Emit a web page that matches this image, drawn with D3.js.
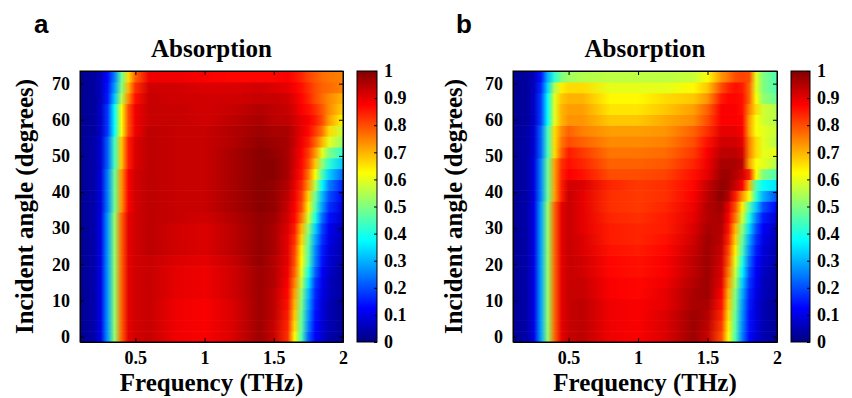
<!DOCTYPE html>
<html>
<head>
<meta charset="UTF-8">
<title>Absorption vs frequency and incident angle</title>
<script src="https://d3js.org/d3.v7.min.js"></script>
<style>
  body { margin: 0; background: #fff; }
  svg { display: block; }
  .tick text { font-family: "Liberation Serif", "Times New Roman", serif; font-weight: bold; font-size: 18px; fill: #000; }
  .ttl { font-family: "Liberation Serif", "Times New Roman", serif; font-weight: bold; font-size: 25px; }
  .panel-lbl { font-family: "Liberation Sans", Arial, sans-serif; font-weight: bold; font-size: 26px; }
</style>
</head>
<body>
<svg id="chart"></svg>
<script>
// frequency sample points (THz) for every row
const freqs = [0.1, 0.2, 0.25, 0.3, 0.35, 0.4, 0.45, 0.5, 0.6, 0.8, 1.0, 1.2, 1.4, 1.5, 1.6, 1.65, 1.7, 1.75, 1.8, 1.85, 1.9, 2.0];
// incident angles (degrees), one row each
const angles = [0, 3, 6, 9, 12, 15, 18, 21, 24, 27, 30, 33, 36, 39, 42, 45, 48, 51, 54, 57, 60, 63, 66, 69, 72];

const xTicks = [0.5, 1, 1.5, 2];
const yTicks = [0, 10, 20, 30, 40, 50, 60, 70];
const cbarTicks = [0, 0.1, 0.2, 0.3, 0.4, 0.5, 0.6, 0.7, 0.8, 0.9, 1];

// panel a: absorption, rows by angle, columns by freqs
const absorptionA = [
  [.02,.04,.10,.28,.52,.78,.90,.92, .93,.89,.88,.91,.97,.93, .83,.63,.45,.22,.12,.08,.04,.02],
  [.02,.04,.10,.28,.52,.78,.90,.92, .93,.89,.88,.91,.97,.93, .84,.66,.47,.25,.13,.08,.05,.02],
  [.02,.04,.10,.28,.52,.78,.90,.92, .93,.89,.88,.91,.97,.94, .85,.68,.48,.27,.14,.09,.05,.02],
  [.02,.04,.10,.28,.52,.78,.90,.92, .93,.89,.88,.91,.97,.94, .86,.70,.50,.29,.15,.09,.05,.02],
  [.02,.04,.10,.28,.52,.78,.90,.92, .93,.90,.89,.92,.97,.94, .87,.72,.52,.31,.16,.10,.06,.03],
  [.02,.04,.10,.28,.52,.78,.90,.92, .93,.90,.89,.92,.97,.95, .88,.75,.56,.35,.18,.11,.06,.03],
  [.02,.04,.10,.28,.52,.78,.90,.92, .93,.90,.89,.92,.97,.95, .89,.78,.60,.40,.22,.12,.07,.03],
  [.02,.04,.10,.28,.52,.78,.90,.92, .93,.91,.90,.93,.98,.95, .90,.80,.63,.45,.25,.14,.08,.04],
  [.02,.04,.10,.28,.52,.78,.90,.92, .94,.92,.91,.94,.98,.96, .90,.81,.64,.46,.26,.15,.09,.04],
  [.02,.04,.10,.28,.52,.78,.90,.92, .94,.92,.91,.94,.98,.96, .90,.83,.67,.48,.29,.17,.10,.05],
  [.02,.04,.10,.28,.52,.78,.90,.92, .94,.92,.91,.94,.98,.96, .91,.85,.70,.52,.33,.19,.11,.05],
  [.02,.04,.10,.28,.52,.78,.90,.92, .94,.93,.92,.95,.98,.97, .92,.87,.76,.58,.40,.23,.14,.07],
  [.02,.04,.09,.25,.48,.73,.88,.92, .94,.93,.93,.96,.99,.98, .93,.88,.80,.64,.45,.28,.17,.09],
  [.02,.04,.09,.25,.48,.73,.88,.92, .94,.93,.93,.96,.99,.98, .94,.89,.82,.67,.48,.31,.20,.11],
  [.02,.04,.09,.25,.48,.73,.88,.92, .94,.93,.93,.96,.99,.98, .95,.90,.84,.73,.55,.37,.25,.15],
  [.02,.04,.09,.25,.48,.73,.88,.92, .94,.93,.93,.96,.99,.99, .96,.91,.86,.76,.62,.45,.33,.22],
  [.02,.04,.08,.22,.44,.68,.85,.91, .94,.93,.93,.96,.99,.99, .96,.92,.87,.80,.68,.52,.42,.32],
  [.02,.04,.08,.22,.44,.68,.85,.91, .94,.93,.93,.96,.99,.98, .96,.92,.88,.82,.73,.60,.50,.42],
  [.02,.04,.08,.22,.44,.68,.85,.91, .94,.93,.93,.95,.98,.97, .96,.93,.89,.85,.78,.70,.60,.52],
  [.02,.03,.07,.18,.38,.62,.80,.89, .94,.93,.93,.95,.97,.96, .96,.93,.90,.87,.82,.76,.66,.57],
  [.02,.03,.07,.18,.38,.62,.80,.89, .93,.93,.92,.94,.96,.94, .94,.92,.90,.88,.85,.80,.72,.63],
  [.02,.03,.07,.18,.38,.62,.80,.89, .93,.93,.92,.93,.95,.94, .93,.91,.88,.86,.83,.79,.74,.67],
  [.02,.03,.06,.15,.32,.55,.74,.86, .93,.92,.92,.92,.93,.93, .92,.90,.87,.84,.80,.77,.74,.70],
  [.02,.03,.06,.14,.28,.50,.70,.83, .92,.92,.91,.91,.92,.91, .90,.88,.86,.83,.80,.78,.77,.75],
  [.02,.03,.06,.13,.25,.48,.66,.78, .89,.89,.88,.87,.87,.87, .88,.86,.84,.81,.79,.77,.76,.75]
];

// panel b
const absorptionB = [
  [.02,.04,.10,.28,.52,.78,.90,.93, .94,.89,.88,.91,.97,.93, .80,.62,.45,.25,.13,.08,.05,.02],
  [.02,.04,.10,.28,.52,.78,.90,.93, .94,.89,.88,.91,.97,.94, .82,.64,.46,.26,.14,.09,.05,.02],
  [.02,.04,.10,.28,.52,.78,.90,.93, .94,.89,.88,.91,.97,.95, .84,.66,.47,.27,.14,.09,.05,.02],
  [.02,.04,.10,.28,.52,.78,.90,.93, .94,.89,.88,.90,.96,.96, .86,.68,.49,.28,.15,.09,.05,.02],
  [.02,.04,.10,.28,.52,.78,.90,.93, .93,.88,.87,.90,.96,.97, .88,.70,.50,.30,.16,.10,.06,.03],
  [.02,.04,.10,.28,.52,.78,.90,.93, .93,.88,.87,.89,.95,.97, .90,.73,.54,.33,.18,.11,.06,.03],
  [.02,.04,.10,.28,.52,.78,.90,.93, .92,.87,.86,.88,.94,.97, .91,.76,.57,.37,.20,.12,.07,.03],
  [.02,.04,.10,.28,.52,.78,.90,.93, .92,.87,.86,.88,.94,.97, .92,.79,.60,.41,.23,.13,.08,.04],
  [.02,.04,.10,.28,.52,.78,.90,.93, .91,.86,.85,.87,.93,.97, .93,.81,.64,.45,.26,.15,.09,.04],
  [.02,.04,.10,.28,.52,.78,.90,.93, .91,.85,.84,.86,.92,.97, .94,.84,.67,.48,.29,.17,.10,.05],
  [.02,.04,.10,.28,.52,.78,.90,.93, .90,.85,.84,.85,.91,.96, .95,.86,.70,.52,.34,.20,.12,.06],
  [.02,.04,.10,.28,.52,.78,.90,.93, .90,.84,.83,.85,.90,.95, .96,.88,.76,.58,.40,.25,.15,.08],
  [.02,.04,.10,.28,.52,.78,.90,.93, .90,.83,.82,.84,.89,.95, .97,.90,.80,.64,.46,.32,.20,.12],
  [.02,.04,.09,.25,.48,.72,.85,.93, .90,.83,.82,.83,.88,.94, .99,.95,.85,.73,.62,.42,.30,.20],
  [.02,.04,.09,.25,.48,.72,.85,.92, .91,.84,.82,.83,.87,.93, .98,.97,.93,.88,.70,.45,.38,.35],
  [.02,.04,.09,.25,.48,.72,.84,.88, .86,.80,.80,.81,.86,.90, .97,.97,.95,.92,.85,.62,.50,.45],
  [.02,.04,.09,.25,.48,.72,.83,.86, .84,.78,.78,.79,.84,.89, .96,.96,.96,.94,.72,.62,.60,.55],
  [.02,.04,.08,.22,.44,.66,.78,.85, .82,.76,.76,.77,.82,.88, .94,.94,.94,.92,.75,.66,.60,.60],
  [.02,.04,.08,.22,.44,.66,.76,.80, .78,.74,.74,.75,.80,.86, .92,.92,.92,.90,.75,.66,.60,.55],
  [.02,.04,.08,.22,.44,.66,.74,.78, .75,.72,.72,.73,.78,.83, .90,.90,.90,.88,.72,.62,.60,.57],
  [.02,.03,.07,.18,.38,.60,.70,.73, .73,.68,.68,.71,.74,.80, .88,.88,.88,.87,.72,.62,.58,.55],
  [.02,.03,.07,.18,.38,.60,.70,.72, .72,.65,.65,.68,.72,.78, .88,.88,.88,.86,.75,.66,.58,.55],
  [.02,.03,.07,.18,.38,.60,.68,.70, .70,.63,.63,.66,.68,.73, .85,.87,.87,.86,.78,.62,.52,.48],
  [.02,.03,.06,.16,.34,.55,.64,.66, .66,.60,.60,.60,.63,.68, .80,.84,.86,.85,.78,.60,.50,.45],
  [.02,.03,.06,.14,.30,.42,.50,.53, .55,.56,.56,.56,.57,.62, .73,.76,.80,.81,.80,.60,.50,.45]
];

const W = 852, H = 398;
const svg = d3.select("#chart").attr("width", W).attr("height", H);
const defs = svg.append("defs");

// jet colormap, clim [0 1]
const jet = d3.scaleLinear()
  .domain([0, 0.125, 0.375, 0.625, 0.875, 1])
  .range(["#000080", "#0000ff", "#00ffff", "#ffff00", "#ff0000", "#800000"])
  .clamp(true);

const panels = [
  { name: "a", data: absorptionA, left: 80, right: 343, cbL: 357, cbR: 377, yLblX: 33, lblX: 34 },
  { name: "b", data: absorptionB, left: 513, right: 777, cbL: 791, cbR: 810, yLblX: 462, lblX: 456 }
];
const plotTop = 71, plotBottom = 342;

// colorbar gradient (shared)
const cg = defs.append("linearGradient").attr("id", "jetbar")
  .attr("x1", 0).attr("x2", 0).attr("y1", 1).attr("y2", 0);
cg.selectAll("stop").data(jet.domain()).join("stop")
  .attr("offset", d => d)
  .attr("stop-color", d => jet(d));

panels.forEach(p => {
  const g = svg.append("g");
  const x = d3.scaleLinear().domain([0.1, 2]).range([p.left, p.right]);
  const y = d3.scaleLinear().domain([-1.5, 73.5]).range([plotBottom, plotTop]);

  // one horizontal gradient per angle row
  p.data.forEach((vals, i) => {
    const grad = defs.append("linearGradient")
      .attr("id", `row-${p.name}-${i}`)
      .attr("gradientUnits", "userSpaceOnUse")
      .attr("x1", x(0.1)).attr("x2", x(2)).attr("y1", 0).attr("y2", 0);
    grad.selectAll("stop").data(freqs).join("stop")
      .attr("offset", f => (x(f) - x(0.1)) / (x(2) - x(0.1)))
      .attr("stop-color", (f, j) => jet(vals[j]));
  });

  g.selectAll("rect.row").data(angles).join("rect")
    .attr("class", "row")
    .attr("x", x(0.1))
    .attr("width", x(2) - x(0.1))
    .attr("y", a => y(a + 1.5))
    .attr("height", a => y(a - 1.5) - y(a + 1.5) + (a > 0 ? 0.6 : 0))
    .attr("fill", (a, i) => `url(#row-${p.name}-${i})`);

  // axes, ticks inward on all four sides
  const fmt = d => String(d);
  const axB = g.append("g").attr("transform", `translate(0,${plotBottom})`)
    .call(d3.axisBottom(x).tickValues(xTicks).tickFormat(fmt).tickSize(-4).tickSizeOuter(0).tickPadding(8));
  const axT = g.append("g").attr("transform", `translate(0,${plotTop})`)
    .call(d3.axisTop(x).tickValues(xTicks).tickFormat("").tickSize(-4).tickSizeOuter(0));
  const axL = g.append("g").attr("transform", `translate(${p.left},0)`)
    .call(d3.axisLeft(y).tickValues(yTicks).tickFormat(fmt).tickSize(-4).tickSizeOuter(0).tickPadding(10));
  const axR = g.append("g").attr("transform", `translate(${p.right},0)`)
    .call(d3.axisRight(y).tickValues(yTicks).tickFormat("").tickSize(-4).tickSizeOuter(0));
  [axB, axT, axL, axR].forEach(a => a.attr("font-family", null).attr("font-size", null));
  axB.selectAll("text").attr("dy", "0.75em");

  g.append("rect")
    .attr("x", p.left).attr("y", plotTop)
    .attr("width", p.right - p.left).attr("height", plotBottom - plotTop)
    .attr("fill", "none").attr("stroke", "#000").attr("stroke-width", 1);

  // title and axis labels
  g.append("text").attr("class", "ttl")
    .attr("x", (p.left + p.right) / 2).attr("y", 57)
    .attr("text-anchor", "middle").text("Absorption");
  g.append("text").attr("class", "ttl")
    .attr("x", (p.left + p.right) / 2).attr("y", 391)
    .attr("text-anchor", "middle").text("Frequency (THz)");
  g.append("text").attr("class", "ttl")
    .attr("transform", `translate(${p.yLblX},${(plotTop + plotBottom) / 2}) rotate(-90)`)
    .attr("text-anchor", "middle").text("Incident angle (degrees)");
  g.append("text").attr("class", "panel-lbl")
    .attr("x", p.lblX).attr("y", 33).text(p.name);

  // colorbar
  const cy = d3.scaleLinear().domain([0, 1]).range([plotBottom, plotTop]);
  g.append("rect")
    .attr("x", p.cbL).attr("y", plotTop)
    .attr("width", p.cbR - p.cbL).attr("height", plotBottom - plotTop)
    .attr("fill", "url(#jetbar)").attr("stroke", "#000").attr("stroke-width", 1);
  const axC = g.append("g").attr("transform", `translate(${p.cbR},0)`)
    .call(d3.axisRight(cy).tickValues(cbarTicks).tickFormat(fmt).tickSize(-3).tickSizeOuter(0).tickPadding(7));
  axC.attr("font-family", null).attr("font-size", null);
  axC.select(".domain").remove();
});
</script>
</body>
</html>
